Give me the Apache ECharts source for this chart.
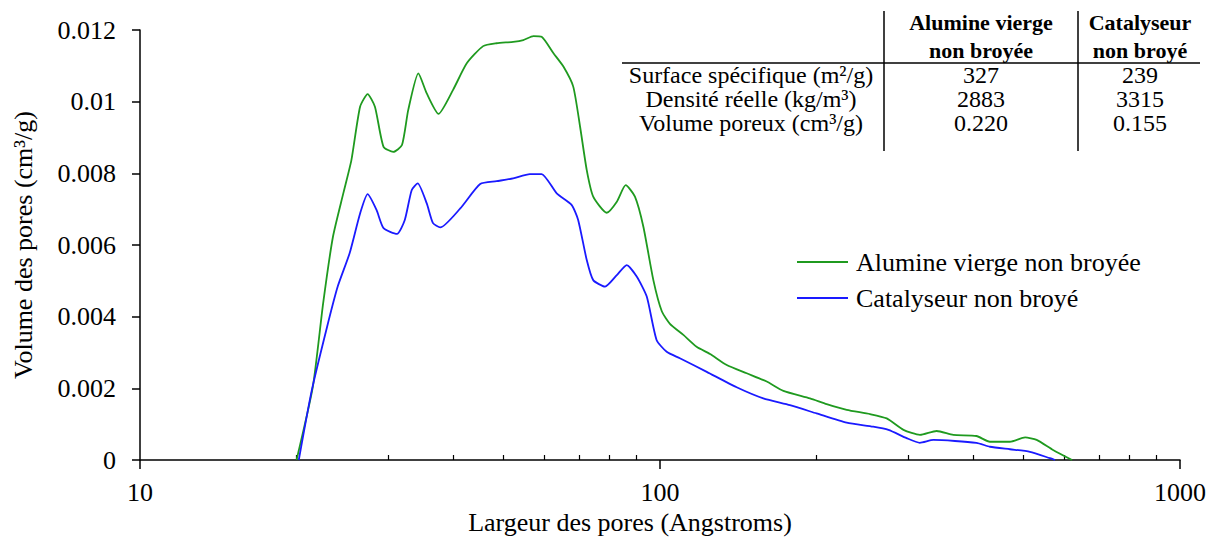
<!DOCTYPE html>
<html>
<head>
<meta charset="utf-8">
<script src="https://cdn.jsdelivr.net/npm/echarts@6/dist/echarts.min.js"></script>
<style>
html,body{margin:0;padding:0;background:#fff;}
#chart{width:1229px;height:542px;}
</style>
</head>
<body>
<div id="chart"></div>
<script>
// ---- Data ----
const seriesNames = ['Alumine vierge non broyée', 'Catalyseur non broyé'];

const aluminaWidth = [20, 21.5, 22.5, 23.5, 24.6, 25.5, 26.5, 27.4, 28.3, 29.4, 30.7, 31.9, 32.8, 34.3, 35.6, 37.5, 40.0, 42.5, 45.7, 48.5, 52.2, 54.6, 57.1, 59.2, 62.4, 65.2, 68.1, 70.2, 72.3, 74.4, 79.0, 82.6, 85.9, 89.5, 92.9, 97.1, 100.8, 104.5, 110.9, 117.6, 124.8, 134.4, 146.8, 160.4, 172.7, 194.3, 209.2, 228.6, 253.5, 272.9, 293.9, 316.2, 340.4, 366.4, 406, 431, 471, 503.6, 530, 570, 620];
const aluminaVolume = [0, 0.00205, 0.00437, 0.00623, 0.00744, 0.00837, 0.00986, 0.01021, 0.00986, 0.00874, 0.0086, 0.00879, 0.00977, 0.01079, 0.01023, 0.00966, 0.01033, 0.01107, 0.01155, 0.01163, 0.01167, 0.01172, 0.01183, 0.01181, 0.01135, 0.01098, 0.01042, 0.0093, 0.00809, 0.00735, 0.0069, 0.00721, 0.00767, 0.00735, 0.00651, 0.00502, 0.00415, 0.0038, 0.00349, 0.00316, 0.00296, 0.00265, 0.00242, 0.00219, 0.00193, 0.00172, 0.00156, 0.0014, 0.00128, 0.00116, 0.00084, 0.0007, 0.00081, 0.0007, 0.00067, 0.00051, 0.00051, 0.00063, 0.00056, 0.00028, 0];

const catalystWidth = [20.2, 21.4, 22.9, 24.0, 25.3, 26.5, 27.4, 28.5, 29.4, 31.2, 32.3, 33.3, 34.2, 35.6, 36.6, 37.8, 41.3, 45.1, 48.5, 52.2, 56.2, 59.2, 63.3, 67.6, 69.6, 72.3, 74.4, 78.4, 82.6, 86.3, 90.2, 94.3, 98.5, 103, 109.2, 123, 140.4, 158, 177.8, 200, 228.6, 257, 275, 298, 316, 335.6, 406, 431, 471, 514.5, 562, 575];
const catalystVolume = [0, 0.00195, 0.00372, 0.00484, 0.00577, 0.00688, 0.00742, 0.00698, 0.00647, 0.00631, 0.0067, 0.00753, 0.00772, 0.00716, 0.00661, 0.00649, 0.00702, 0.0077, 0.00778, 0.00786, 0.00798, 0.00798, 0.00744, 0.00712, 0.0067, 0.00558, 0.00502, 0.00484, 0.00516, 0.00544, 0.00512, 0.00456, 0.00335, 0.00302, 0.00284, 0.00246, 0.00203, 0.00172, 0.00153, 0.0013, 0.00104, 0.00093, 0.00084, 0.00061, 0.00048, 0.00056, 0.00048, 0.00037, 0.0003, 0.00023, 0.00005, 0];

const xMajorTicks = [10, 100, 1000];
const xMinorTicks = [20, 30, 40, 50, 60, 70, 80, 90, 200, 300, 400, 500, 600, 700, 800, 900];
const yTicks = [0, 0.002, 0.004, 0.006, 0.008, 0.01, 0.012];

const tableHeaders = ['Alumine vierge\nnon broyée', 'Catalyseur\nnon broyé'];
const tableRowLabels = ['Surface spécifique (m²/g)', 'Densité réelle (kg/m³)', 'Volume poreux (cm³/g)'];
const aluminaProps = ['327', '2883', '0.220'];
const catalystProps = ['239', '3315', '0.155'];

// ---- Chart ----
const FONT = '"Liberation Serif", "Times New Roman", serif';
const pair = (xs, ys) => xs.map((x, i) => [x, ys[i]]);

const chart = echarts.init(document.getElementById('chart'), null, {renderer: 'svg'});

const gfx = [];
const colX = [751, 981, 1140];
const rowY = [75, 99, 123];
tableHeaders.forEach((h, i) => {
  gfx.push({type: 'text', style: {x: colX[i + 1], y: 36, text: h, fill: '#000',
    font: 'bold 22px ' + FONT, textAlign: 'center', textVerticalAlign: 'middle', lineHeight: 28}});
});
tableRowLabels.forEach((r, i) => {
  gfx.push({type: 'text', style: {x: colX[0], y: rowY[i], text: r, fill: '#000',
    font: '24px ' + FONT, textAlign: 'center', textVerticalAlign: 'middle'}});
  gfx.push({type: 'text', style: {x: colX[1], y: rowY[i], text: aluminaProps[i], fill: '#000',
    font: '24px ' + FONT, textAlign: 'center', textVerticalAlign: 'middle'}});
  gfx.push({type: 'text', style: {x: colX[2], y: rowY[i], text: catalystProps[i], fill: '#000',
    font: '24px ' + FONT, textAlign: 'center', textVerticalAlign: 'middle'}});
});
gfx.push({type: 'line', shape: {x1: 622, y1: 63, x2: 1200, y2: 63}, style: {stroke: '#000', lineWidth: 1.5}});
gfx.push({type: 'line', shape: {x1: 884, y1: 11, x2: 884, y2: 151}, style: {stroke: '#000', lineWidth: 1.5}});
gfx.push({type: 'line', shape: {x1: 1078, y1: 11, x2: 1078, y2: 151}, style: {stroke: '#000', lineWidth: 1.5}});

const option = {
  backgroundColor: '#fff',
  animation: false,
  grid: {left: 140, right: 49, top: 30, bottom: 82},
  legend: {
    orient: 'vertical', left: 797, top: 249, padding: 0, itemWidth: 51, itemHeight: 12, itemGap: 10,
    textStyle: {fontFamily: FONT, fontSize: 26, color: '#000', padding: [0, 0, 0, 3]},
    data: seriesNames.map(n => ({name: n, icon: 'path://M0,0 L51,0 L51,2 L0,2 Z'}))
  },
  xAxis: [{
    type: 'log', logBase: 10, min: 10, max: 1000,
    name: 'Largeur des pores (Angstroms)', nameLocation: 'middle', nameGap: 48,
    nameTextStyle: {fontFamily: FONT, fontSize: 26, color: '#000', padding: [0, 60, 0, 0]},
    axisLine: {lineStyle: {color: '#000', width: 1.5}},
    axisTick: {inside: false, length: 9, lineStyle: {color: '#000', width: 1.5}, customValues: xMajorTicks},
    axisLabel: {fontFamily: FONT, fontSize: 26, color: '#000', margin: 19, customValues: xMajorTicks,
      formatter: v => String(v)},
    splitLine: {show: false}
  }, {
    type: 'log', logBase: 10, min: 10, max: 1000, position: 'bottom',
    axisLine: {show: false},
    axisTick: {inside: true, length: 5, lineStyle: {color: '#000', width: 1.2}, customValues: xMinorTicks},
    axisLabel: {show: false},
    splitLine: {show: false}
  }],
  yAxis: {
    type: 'value', min: 0, max: 0.012, interval: 0.002,
    name: 'Volume des pores (cm³/g)', nameLocation: 'middle', nameGap: 104,
    nameTextStyle: {fontFamily: FONT, fontSize: 26, color: '#000'},
    axisLine: {show: true, lineStyle: {color: '#000', width: 1.5}},
    axisTick: {show: true, length: 8, lineStyle: {color: '#000', width: 1.5}},
    axisLabel: {fontFamily: FONT, fontSize: 26, color: '#000', margin: 24,
      formatter: v => String(+v.toFixed(3))},
    splitLine: {show: false}
  },
  series: [{
    name: seriesNames[0], type: 'line', xAxisIndex: 0, data: pair(aluminaWidth, aluminaVolume),
    symbol: 'none', smooth: 0.2, color: '#1f9a1f', lineStyle: {width: 1.8, color: '#1f9a1f'}
  }, {
    name: seriesNames[1], type: 'line', xAxisIndex: 0, data: pair(catalystWidth, catalystVolume),
    symbol: 'none', smooth: 0.2, color: '#1a1aff', lineStyle: {width: 1.8, color: '#1a1aff'}
  }],
  graphic: gfx
};
chart.setOption(option);
</script>
</body>
</html>
